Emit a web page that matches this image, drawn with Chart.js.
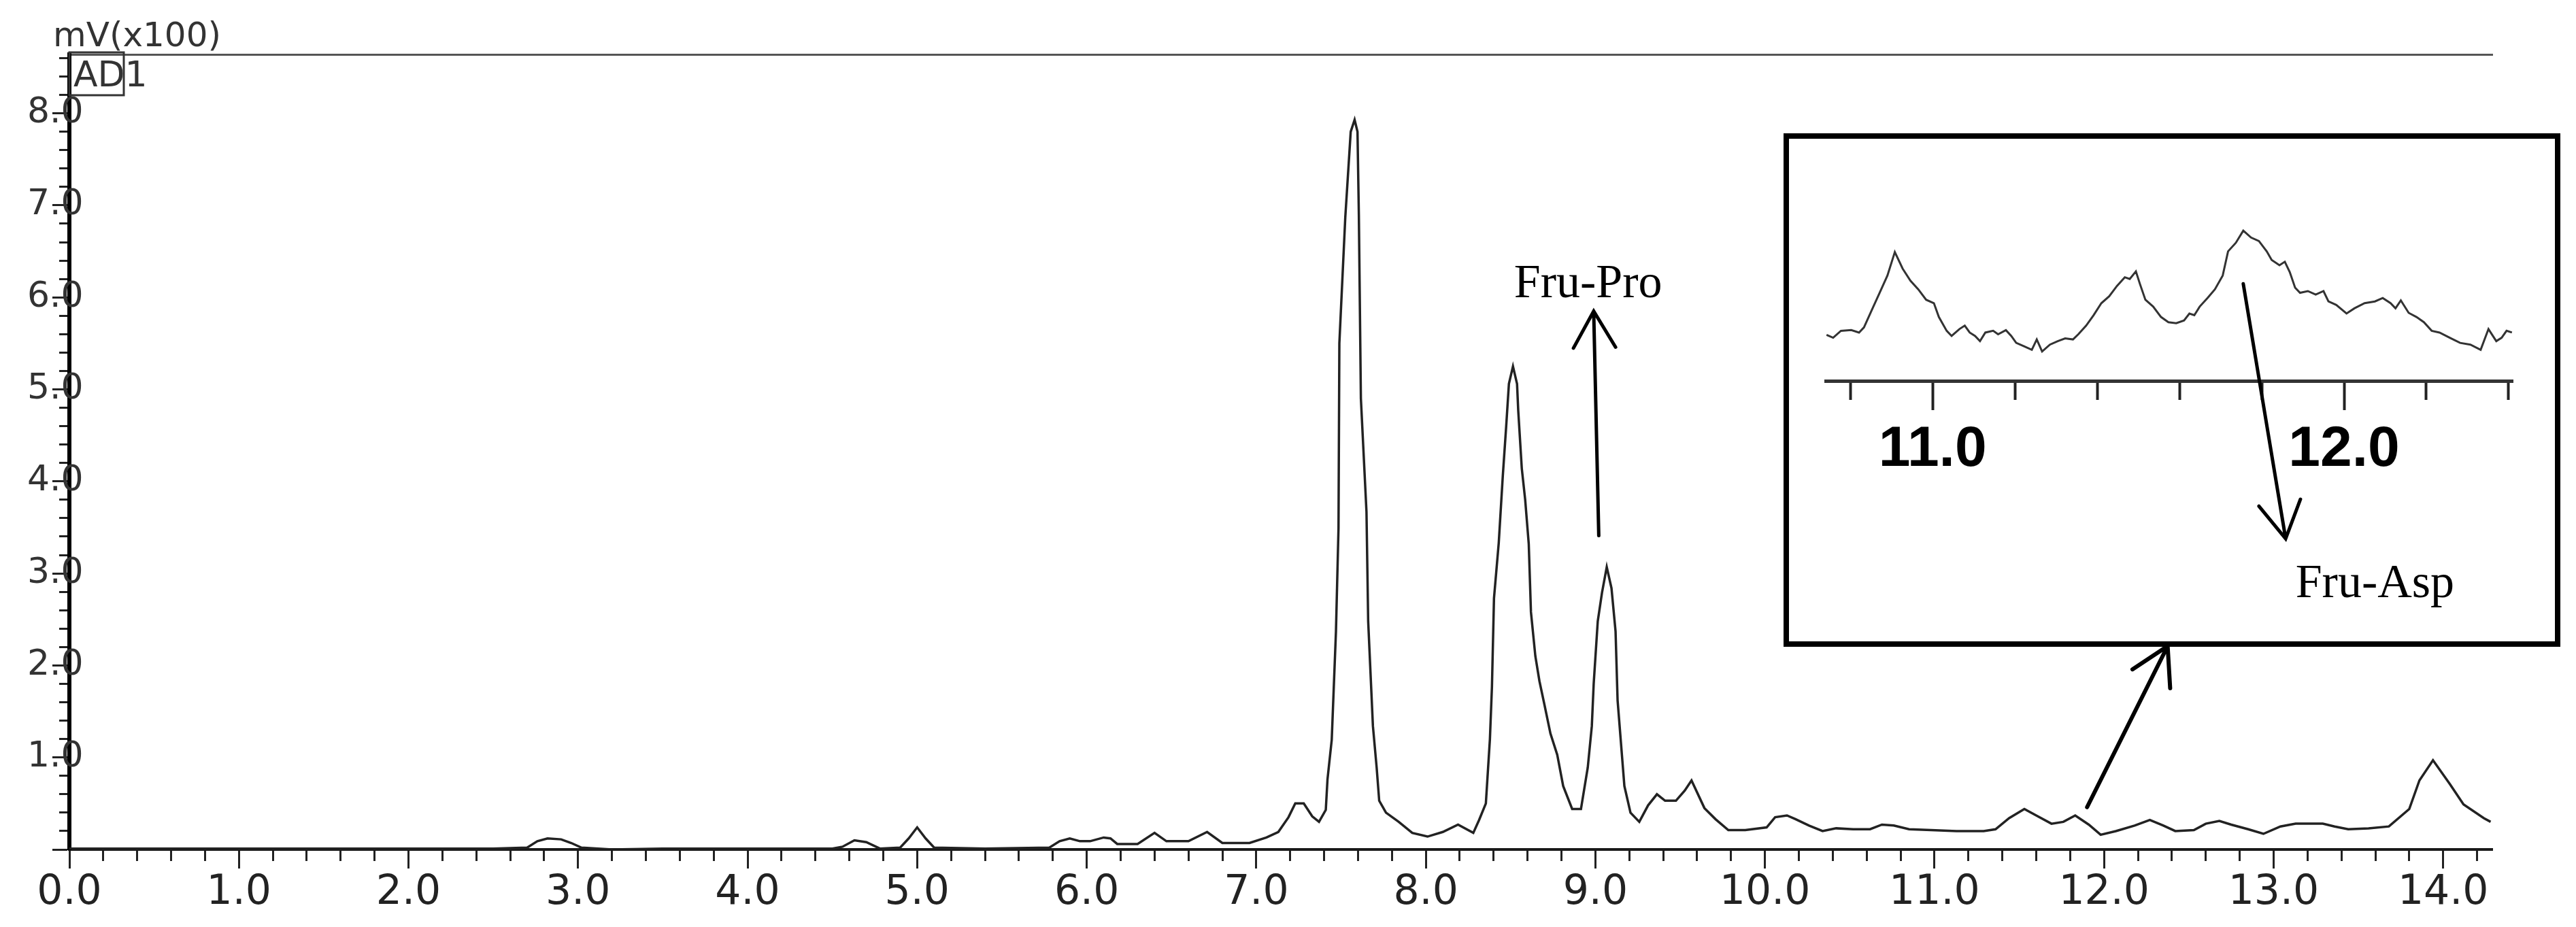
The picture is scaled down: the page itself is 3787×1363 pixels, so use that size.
<!DOCTYPE html>
<html>
<head>
<meta charset="utf-8">
<title>Chromatogram</title>
<script src="https://cdn.jsdelivr.net/npm/chart.js@4.4.1/dist/chart.umd.min.js"></script>
<style>
  html, body { margin: 0; padding: 0; background: #fff; }
  #wrap { position: relative; width: 3787px; height: 1363px; overflow: hidden; }
  #mainChart { position: absolute; left: 0; top: 0; }
  #insetBox { position: absolute; left: 2622px; top: 196px; width: 1142px; height: 755px;
              border: 8px solid #000; box-sizing: border-box; }
  #insetChart { position: absolute; left: 2668px; top: 212px; }
</style>
</head>
<body>
<div id="wrap">
  <canvas id="mainChart" width="3787" height="1363"></canvas>
  <div id="insetBox"></div>
  <canvas id="insetChart" width="1044" height="718"></canvas>
</div>
<script>
// retention time (min) and detector signal (mV x100)
const retentionTime = [
  0, 0.5, 1.0, 1.5, 2.0, 2.5, 2.70, 2.76, 2.82, 2.90,
  2.96, 3.02, 3.20, 3.50, 4.00, 4.50, 4.56, 4.63, 4.70, 4.78,
  4.90, 4.95, 5.00, 5.05, 5.10, 5.40, 5.78, 5.84, 5.90, 5.96,
  6.02, 6.10, 6.14, 6.18, 6.30, 6.40, 6.47, 6.60, 6.71, 6.80,
  6.96, 7.06, 7.13, 7.19, 7.23, 7.28, 7.33, 7.37, 7.41, 7.42,
  7.445, 7.47, 7.485, 7.49, 7.525, 7.557, 7.58, 7.597, 7.605, 7.617,
  7.65, 7.66, 7.688, 7.71, 7.725, 7.765, 7.84, 7.92, 8.01, 8.10,
  8.19, 8.28, 8.314, 8.354, 8.378, 8.39, 8.402, 8.43, 8.454, 8.474,
  8.49, 8.514, 8.538, 8.545, 8.566, 8.586, 8.607, 8.62, 8.646, 8.67,
  8.70, 8.735, 8.775, 8.81, 8.863, 8.915, 8.955, 8.979, 8.99, 9.014,
  9.039, 9.067, 9.095, 9.119, 9.131, 9.171, 9.207, 9.259, 9.311, 9.363,
  9.411, 9.475, 9.527, 9.567, 9.643, 9.708, 9.784, 9.884, 10.01, 10.06,
  10.13, 10.18, 10.26, 10.34, 10.42, 10.52, 10.62, 10.69, 10.76, 10.85,
  10.98, 11.13, 11.29, 11.36, 11.44, 11.53, 11.60, 11.69, 11.76, 11.83,
  11.91, 11.98, 12.07, 12.18, 12.27, 12.35, 12.42, 12.53, 12.60, 12.68,
  12.75, 12.85, 12.94, 13.04, 13.13, 13.29, 13.36, 13.44, 13.56, 13.68,
  13.80, 13.86, 13.94, 14.04, 14.12, 14.24, 14.28
];
const signal = [
  0.01, 0.01, 0.01, 0.01, 0.01, 0.01, 0.02, 0.09, 0.12, 0.11,
  0.07, 0.02, 0.00, 0.01, 0.01, 0.01, 0.03, 0.10, 0.08, 0.01,
  0.02, 0.12, 0.24, 0.12, 0.02, 0.01, 0.02, 0.09, 0.12, 0.09,
  0.09, 0.13, 0.12, 0.06, 0.06, 0.18, 0.09, 0.09, 0.19, 0.07,
  0.07, 0.13, 0.19, 0.35, 0.50, 0.50, 0.36, 0.30, 0.43, 0.76,
  1.19, 2.37, 3.49, 5.50, 6.87, 7.80, 7.93, 7.80, 6.90, 4.90,
  3.67, 2.48, 1.34, 0.89, 0.53, 0.40, 0.30, 0.18, 0.14, 0.19,
  0.27, 0.18, 0.32, 0.50, 1.20, 1.77, 2.73, 3.33, 4.06, 4.60,
  5.06, 5.25, 5.06, 4.77, 4.14, 3.80, 3.32, 2.58, 2.10, 1.83,
  1.57, 1.26, 1.03, 0.69, 0.44, 0.44, 0.89, 1.34, 1.80, 2.48,
  2.79, 3.07, 2.84, 2.37, 1.62, 0.69, 0.40, 0.30, 0.48, 0.60,
  0.53, 0.53, 0.64, 0.75, 0.45, 0.33, 0.21, 0.21, 0.24, 0.35,
  0.37, 0.33, 0.26, 0.20, 0.23, 0.22, 0.22, 0.27, 0.26, 0.22,
  0.21, 0.20, 0.20, 0.22, 0.34, 0.44, 0.37, 0.28, 0.30, 0.37,
  0.27, 0.16, 0.20, 0.26, 0.32, 0.26, 0.20, 0.21, 0.28, 0.31,
  0.27, 0.22, 0.17, 0.25, 0.28, 0.28, 0.25, 0.22, 0.23, 0.25,
  0.44, 0.75, 0.97, 0.71, 0.49, 0.34, 0.30
];

// zoomed trace 10.7 - 12.4 min shown in the inset
const insetTime = [
  10.742, 10.758, 10.777, 10.802, 10.821, 10.833, 10.852, 10.871, 10.890, 10.908,
  10.927, 10.946, 10.965, 10.984, 11.003, 11.015, 11.034, 11.046, 11.065, 11.078,
  11.090, 11.103, 11.115, 11.128, 11.147, 11.159, 11.178, 11.191, 11.203, 11.222,
  11.241, 11.253, 11.266, 11.285, 11.304, 11.322, 11.341, 11.354, 11.373, 11.391,
  11.410, 11.429, 11.448, 11.467, 11.479, 11.494, 11.504, 11.517, 11.536, 11.555,
  11.573, 11.592, 11.611, 11.624, 11.636, 11.649, 11.668, 11.686, 11.705, 11.718,
  11.737, 11.755, 11.774, 11.793, 11.812, 11.824, 11.843, 11.856, 11.868, 11.881,
  11.893, 11.912, 11.931, 11.950, 11.962, 11.981, 12.006, 12.025, 12.050, 12.075,
  12.094, 12.113, 12.125, 12.138, 12.157, 12.176, 12.194, 12.213, 12.232, 12.257,
  12.282, 12.307, 12.332, 12.351, 12.370, 12.383, 12.395, 12.408
];
const insetSignal = [
  0.233, 0.225, 0.245, 0.247, 0.240, 0.255, 0.305, 0.355, 0.405, 0.473,
  0.425, 0.390, 0.365, 0.335, 0.325, 0.285, 0.245, 0.230, 0.250, 0.260,
  0.240, 0.230, 0.215, 0.240, 0.245, 0.235, 0.247, 0.230, 0.210, 0.200,
  0.190, 0.220, 0.185, 0.205, 0.215, 0.223, 0.220, 0.235, 0.260, 0.290,
  0.325, 0.345, 0.375, 0.400, 0.395, 0.417, 0.380, 0.335, 0.315, 0.285,
  0.270, 0.267, 0.275, 0.295, 0.290, 0.315, 0.340, 0.365, 0.405, 0.475,
  0.500, 0.535, 0.515, 0.505, 0.475, 0.450, 0.435, 0.445, 0.415, 0.370,
  0.355, 0.360, 0.350, 0.360, 0.330, 0.320, 0.295, 0.310, 0.325, 0.330,
  0.340, 0.325, 0.310, 0.333, 0.297, 0.285, 0.270, 0.245, 0.240, 0.225,
  0.210, 0.205, 0.190, 0.250, 0.215, 0.225, 0.245, 0.240
];

// annotations, in data units of the chart they sit on
const proArrow = [[9.02, 3.41], [8.99, 5.85]];
const proLabel = { text: 'Fru-Pro', at: [8.52, 6.00] };
const zoomArrow = [[11.90, 0.46], [12.375, 2.21]];
const aspArrow = [[11.755, 0.381], [11.858, -0.357]];
const aspLabel = { text: 'Fru-Asp', at: [11.882, -0.526] };

const isMajor = v => Math.abs(v - Math.round(v)) < 1e-6;

function drawArrow(ctx, x0, y0, x1, y1, width) {
    const ang = Math.atan2(y1 - y0, x1 - x0);
    const head = 62, spread = Math.PI / 6;
    ctx.save();
    ctx.strokeStyle = '#000';
    ctx.lineWidth = width;
    ctx.lineCap = 'round';
    ctx.beginPath();
    ctx.moveTo(x0, y0);
    ctx.lineTo(x1, y1);
    ctx.moveTo(x1 - head * Math.cos(ang - spread), y1 - head * Math.sin(ang - spread));
    ctx.lineTo(x1, y1);
    ctx.lineTo(x1 - head * Math.cos(ang + spread), y1 - head * Math.sin(ang + spread));
    ctx.stroke();
    ctx.restore();
}

const mainNotes = {
    id: 'mainNotes',
    afterDraw(chart) {
        const { ctx, chartArea, scales: { x, y } } = chart;
        ctx.save();
        ctx.fillStyle = '#333';
        ctx.font = '50px "DejaVu Sans"';
        ctx.textBaseline = 'alphabetic';
        ctx.fillText('mV(x100)', chartArea.left - 24, chartArea.top - 12);
        ctx.strokeStyle = '#333';
        ctx.lineWidth = 3;
        ctx.strokeRect(chartArea.left, chartArea.top - 3, 80, 63);
        ctx.font = '52px "DejaVu Sans"';
        ctx.fillText('AD1', chartArea.left + 6, chartArea.top + 47);

        ctx.fillStyle = '#000';
        ctx.font = '70px "Liberation Serif"';
        ctx.fillText(proLabel.text, x.getPixelForValue(proLabel.at[0]), y.getPixelForValue(proLabel.at[1]));
        ctx.restore();

        drawArrow(ctx, x.getPixelForValue(proArrow[0][0]), y.getPixelForValue(proArrow[0][1]),
                  x.getPixelForValue(proArrow[1][0]), y.getPixelForValue(proArrow[1][1]), 5);
        drawArrow(ctx, x.getPixelForValue(zoomArrow[0][0]), y.getPixelForValue(zoomArrow[0][1]),
                  x.getPixelForValue(zoomArrow[1][0]), y.getPixelForValue(zoomArrow[1][1]), 6);
    }
};

const insetNotes = {
    id: 'insetNotes',
    afterDraw(chart) {
        const { ctx, scales: { x, y } } = chart;
        drawArrow(ctx, x.getPixelForValue(aspArrow[0][0]), y.getPixelForValue(aspArrow[0][1]),
                  x.getPixelForValue(aspArrow[1][0]), y.getPixelForValue(aspArrow[1][1]), 5);
        ctx.save();
        ctx.fillStyle = '#000';
        ctx.font = '70px "Liberation Serif"';
        ctx.textBaseline = 'alphabetic';
        ctx.fillText(aspLabel.text, x.getPixelForValue(aspLabel.at[0]), y.getPixelForValue(aspLabel.at[1]));
        ctx.restore();
    }
};

const mainChart = new Chart(document.getElementById('mainChart').getContext('2d'), {
    type: 'line',
    data: {
        datasets: [{
            data: retentionTime.map((t, i) => ({ x: t, y: signal[i] })),
            borderColor: '#222',
            borderWidth: 3.5,
            pointRadius: 0,
            tension: 0,
            fill: false
        }]
    },
    options: {
        responsive: false,
        animation: false,
        devicePixelRatio: 1,
        layout: { padding: { left: 0, top: 80, right: 123, bottom: 0 } },
        plugins: { legend: { display: false }, tooltip: { enabled: false } },
        scales: {
            x: {
                type: 'linear', position: 'bottom', min: 0, max: 14.29,
                afterFit: s => { s.height = 114; },
                border: { color: '#1a1a1a', width: 4 },
                grid: {
                    drawOnChartArea: false, tickLength: 28, tickWidth: 3, tickColor: '#222',
                    tickBorderDash: c => isMajor(c.tick.value) ? [] : [15, 1000]
                },
                ticks: {
                    stepSize: 0.2, includeBounds: false, autoSkip: false, maxRotation: 0,
                    padding: 0, color: '#222', font: { family: 'DejaVu Sans', size: 60 },
                    callback: v => isMajor(v) ? v.toFixed(1) : ''
                }
            },
            x2: {
                type: 'linear', position: 'top', min: 0, max: 1,
                afterFit: s => { s.height = 0; },
                border: { color: '#555', width: 3 },
                grid: { drawOnChartArea: false, drawTicks: false },
                ticks: { display: false }
            },
            y: {
                type: 'linear', min: 0, max: 8.64,
                afterFit: s => { s.width = 102; },
                border: { color: '#000', width: 6 },
                grid: {
                    drawOnChartArea: false, tickLength: 25, tickWidth: 3, tickColor: '#222',
                    tickBorderDash: c => isMajor(c.tick.value) ? [] : [0, 10, 15, 1000]
                },
                ticks: {
                    // mirror keeps the label unclipped so the ".0" can run over the axis line
                    mirror: true, stepSize: 0.2, includeBounds: false, autoSkip: false,
                    padding: -62, color: '#333', font: { family: 'DejaVu Sans', size: 52 },
                    callback: v => (isMajor(v) && v > 0) ? v.toFixed(1) : ''
                }
            }
        }
    },
    plugins: [mainNotes]
});

const insetChart = new Chart(document.getElementById('insetChart').getContext('2d'), {
    type: 'line',
    data: {
        datasets: [{
            data: insetTime.map((t, i) => ({ x: t, y: insetSignal[i] })),
            borderColor: '#333',
            borderWidth: 3,
            pointRadius: 0,
            tension: 0,
            fill: false
        }]
    },
    options: {
        responsive: false,
        animation: false,
        devicePixelRatio: 1,
        layout: { padding: { left: 16, top: 19, right: 18, bottom: 0 } },
        plugins: { legend: { display: false }, tooltip: { enabled: false } },
        scales: {
            x: {
                type: 'linear', position: 'bottom', min: 10.74, max: 12.41,
                afterFit: s => { s.height = 370; },
                border: { color: '#333', width: 5 },
                grid: {
                    drawOnChartArea: false, tickLength: 43, tickWidth: 4, tickColor: '#222',
                    tickBorderDash: c => isMajor(c.tick.value) ? [] : [25, 1000]
                },
                ticks: {
                    stepSize: 0.2, includeBounds: false, autoSkip: false, maxRotation: 0,
                    padding: 8, color: '#000',
                    font: { family: 'Liberation Sans', size: 84, weight: 'bold' },
                    callback: v => isMajor(v) ? v.toFixed(1) : ''
                }
            },
            y: { type: 'linear', display: false, min: 0.1, max: 0.748 }
        }
    },
    plugins: [insetNotes]
});
</script>
</body>
</html>
